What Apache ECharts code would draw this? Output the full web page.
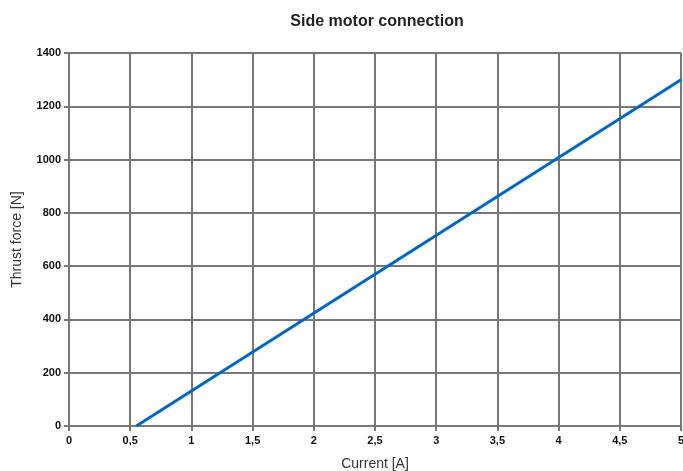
<!DOCTYPE html>
<html><head><meta charset="utf-8">
<script src="https://cdn.jsdelivr.net/npm/echarts@6/dist/echarts.min.js"></script>
<style>html,body{margin:0;padding:0;background:#fff}#c{width:683px;height:471px}</style>
</head><body><div id="c"></div>
<script>
const currentA = [0.55, 5];
const thrustN = [0, 1300];
const xTicks = [0, 0.5, 1, 1.5, 2, 2.5, 3, 3.5, 4, 4.5, 5];
const yTicks = [0, 200, 400, 600, 800, 1000, 1200, 1400];

const chart = echarts.init(document.getElementById('c'));
const gridCol = '#777777';
chart.setOption({
  animation: false,
  title: { text: 'Side motor connection', left: 372, top: 9, textAlign: 'center',
    textStyle: { fontFamily: 'Liberation Sans', fontSize: 16, fontWeight: 'bold', color: '#222' } },
  grid: { left: 69, right: 2, top: 53, bottom: 45, outerBoundsMode: 'none', containLabel: false },
  xAxis: {
    type: 'value', min: 0, max: 5, interval: 0.5,
    name: 'Current [A]', nameLocation: 'middle', nameGap: 31,
    nameTextStyle: { fontFamily: 'Liberation Sans', fontSize: 14, color: '#333' },
    axisLine: { lineStyle: { color: gridCol, width: 2 } },
    axisTick: { show: true, length: 5, lineStyle: { color: gridCol, width: 2 } },
    axisLabel: { fontFamily: 'Liberation Sans', fontSize: 11, fontWeight: 'bold', color: '#111', margin: 9,
      formatter: v => String(v).replace('.', ',') },
    splitLine: { show: true, lineStyle: { color: gridCol, width: 2 } }
  },
  yAxis: {
    type: 'value', min: 0, max: 1400, interval: 200,
    name: 'Thrust force [N]', nameLocation: 'middle', nameGap: 45,
    nameTextStyle: { fontFamily: 'Liberation Sans', fontSize: 14, color: '#333' },
    axisLine: { show: true, lineStyle: { color: gridCol, width: 2 } },
    axisTick: { show: true, length: 5, lineStyle: { color: gridCol, width: 2 } },
    axisLabel: { fontFamily: 'Liberation Sans', fontSize: 11, fontWeight: 'bold', color: '#111', margin: 8,
      formatter: v => String(v) },
    splitLine: { show: true, lineStyle: { color: gridCol, width: 2 } }
  },
  series: [{
    type: 'line', data: currentA.map((x, i) => [x, thrustN[i]]),
    symbol: 'none', lineStyle: { color: '#0066cc', width: 3 }
  }]
});
</script></body></html>
